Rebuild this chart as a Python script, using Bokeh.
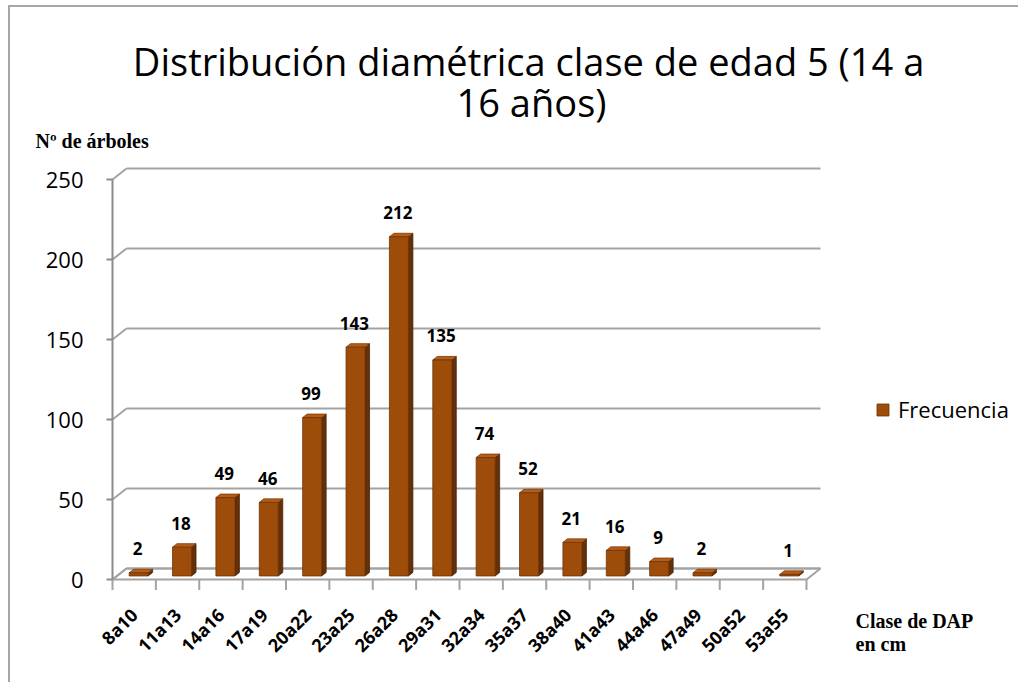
import math
from bokeh.plotting import figure
from bokeh.models import Range1d, FixedTicker, Legend, LegendItem
from bokeh.core.properties import value
from bokeh.embed import file_html
from bokeh.resources import INLINE

# ---------------- data ----------------
categories = ["8a10", "11a13", "14a16", "17a19", "20a22", "23a25", "26a28", "29a31",
              "32a34", "35a37", "38a40", "41a43", "44a46", "47a49", "50a52", "53a55"]
frecuencia = [2, 18, 49, 46, 99, 143, 212, 135, 74, 52, 21, 16, 9, 2, 0, 1]
y_ticks = [0, 50, 100, 150, 200, 250]
series_name = "Frecuencia"
title_lines = ["Distribución diamétrica clase de edad 5  (14 a", "16 años)"]
y_title = "Nº de árboles"
x_title_lines = ["Clase de DAP", "en cm"]

# ---------------- geometry (reference pixels) ----------------
PX_X0, PX_CAT = 112.0, 43.375      # front-left of category axis, px per category
PX_Y0, PX_UNIT = 579.0, 1.6         # y of value 0, px per value unit
CX0, CY0 = 10, 7                    # page position of the canvas
W, H = 1010, 677


def dx(px):
    return (px - PX_X0) / PX_CAT


def dy(py):
    return (PX_Y0 - py) / PX_UNIT


DEPTH_X = 14 / PX_CAT
DEPTH_Y = 11 / PX_UNIT
BAR_W = 19 / PX_CAT
F0 = 0.32   # bar front position along depth
FD = 0.32   # bar depth along depth

GRID = "#a3a3a3"
AXIS = "#8c8c8c"
FRONT = "#9e4c0a"
SIDE = "#63300a"
TOP = "#b65d17"
FONT = value("Open Sans")
SERIF = value("Liberation Serif")
n = len(categories)

p = figure(width=W, height=H, output_backend="svg", toolbar_location=None,
           x_range=Range1d(dx(CX0), dx(CX0 + W)), y_range=Range1d(dy(CY0 + H), dy(CY0)),
           min_border=0,
           styles={"margin-left": "8px", "margin-top": "5px",
                   "border-top": "2px solid #a6a6a6", "border-left": "2px solid #a6a6a6"})
p.grid.visible = False
p.outline_line_color = None
p.background_fill_color = "white"
p.border_fill_color = "white"

# ---------------- axes (placed inside the frame) ----------------
p.yaxis.fixed_location = 0
p.yaxis.ticker = FixedTicker(ticks=y_ticks)
p.yaxis.axis_line_color = None
p.yaxis.major_tick_line_color = AXIS
p.yaxis.major_tick_line_width = 2
p.yaxis.major_tick_out = 6
p.yaxis.major_tick_in = 0
p.yaxis.minor_tick_line_color = None
p.yaxis.major_label_standoff = 23
p.yaxis.major_label_text_font = "Open Sans"
p.yaxis.major_label_text_font_size = "22px"
p.yaxis.major_label_text_color = "#000000"

centers = [i + 0.5 for i in range(n)]
p.xaxis.fixed_location = dy(590)
p.xaxis.ticker = FixedTicker(ticks=centers)
p.xaxis.major_label_overrides = {c: cat for c, cat in zip(centers, categories)}
p.xaxis.axis_line_color = None
p.xaxis.major_tick_line_color = None
p.xaxis.major_tick_out = 0
p.xaxis.major_tick_in = 0
p.xaxis.minor_tick_line_color = None
p.xaxis.major_label_orientation = math.pi / 4
p.xaxis.major_label_standoff = 21
p.xaxis.major_label_text_font = "Open Sans"
p.xaxis.major_label_text_font_style = "bold"
p.xaxis.major_label_text_font_size = "18px"
p.xaxis.major_label_text_color = "#000000"

# ---------------- floor, walls ----------------
p.patch([0, n, n + DEPTH_X, DEPTH_X], [0, 0, DEPTH_Y, DEPTH_Y],
        fill_color="white", line_color=GRID, line_width=2)
p.segment(x0=[DEPTH_X] * len(y_ticks), y0=[t + DEPTH_Y for t in y_ticks],
          x1=[n + DEPTH_X] * len(y_ticks), y1=[t + DEPTH_Y for t in y_ticks],
          line_color=GRID, line_width=2)
p.segment(x0=[0] * len(y_ticks), y0=y_ticks,
          x1=[DEPTH_X] * len(y_ticks), y1=[t + DEPTH_Y for t in y_ticks],
          line_color=GRID, line_width=2)
p.segment(x0=[0], y0=[0], x1=[0], y1=[max(y_ticks)], line_color=AXIS, line_width=2)
p.segment(x0=list(range(n + 1)), y0=[0] * (n + 1), x1=list(range(n + 1)),
          y1=[-6.5] * (n + 1), line_color=GRID, line_width=2)

# ---------------- 3D bars ----------------
idx = [i for i, v in enumerate(frecuencia) if v > 0]
vals = [frecuencia[i] for i in idx]
ox, oy = F0 * DEPTH_X, F0 * DEPTH_Y
bx, by = FD * DEPTH_X, FD * DEPTH_Y
left = [i + 0.5 + ox - BAR_W / 2 for i in idx]
right = [i + 0.5 + ox + BAR_W / 2 for i in idx]
bottom = [oy] * len(idx)
top = [v + oy for v in vals]

side_xs = [[r, r + bx, r + bx, r] for r in right]
side_ys = [[oy, oy + by, t + by, t] for t in top]
p.patches(side_xs, side_ys, fill_color=SIDE, line_color="#4a2306", line_width=0.8)
top_xs = [[l, r, r + bx, l + bx] for l, r in zip(left, right)]
top_ys = [[t, t, t + by, t + by] for t in top]
p.patches(top_xs, top_ys, fill_color=TOP, line_color="#7a3a08", line_width=0.8)
front = p.quad(left=left, right=right, bottom=bottom, top=top,
               fill_color=FRONT, line_color="#6e3406", line_width=0.8)

# data labels
p.text(x=[(l + r) / 2 - bx / 4 for l, r in zip(left, right)], y=[t + by for t in top],
       text=[str(v) for v in vals], text_align="center", text_baseline="bottom",
       y_offset=-14, text_font=FONT, text_font_style="bold", text_font_size="17px",
       text_color="#000000")

# ---------------- titles ----------------
p.text(x=[dx(533), dx(531)], y=[dy(60), dy(101)], text=title_lines,
       text_align="center", text_baseline="middle", text_font=FONT,
       text_font_size="38px", text_color="#000000")
p.text(x=[dx(35)], y=[dy(140)], text=[y_title], text_baseline="middle",
       text_font=SERIF, text_font_style="bold", text_font_size="20px",
       text_color="#000000")
p.text(x=[dx(855), dx(855)], y=[dy(620), dy(643)], text=x_title_lines,
       text_baseline="middle", text_font=SERIF, text_font_style="bold",
       text_font_size="20px", text_color="#000000")

# ---------------- legend ----------------
legend = Legend(items=[LegendItem(label=series_name, renderers=[front])],
                location=(875 - CX0, CY0 + H - 424), padding=0, margin=0, spacing=0,
                glyph_width=15, glyph_height=15, label_standoff=8,
                label_text_font="Open Sans", label_text_font_size="22px",
                label_text_color="#000000", border_line_color=None,
                background_fill_alpha=0)
p.add_layout(legend)

open("out.html", "w").write(file_html(p, INLINE))
